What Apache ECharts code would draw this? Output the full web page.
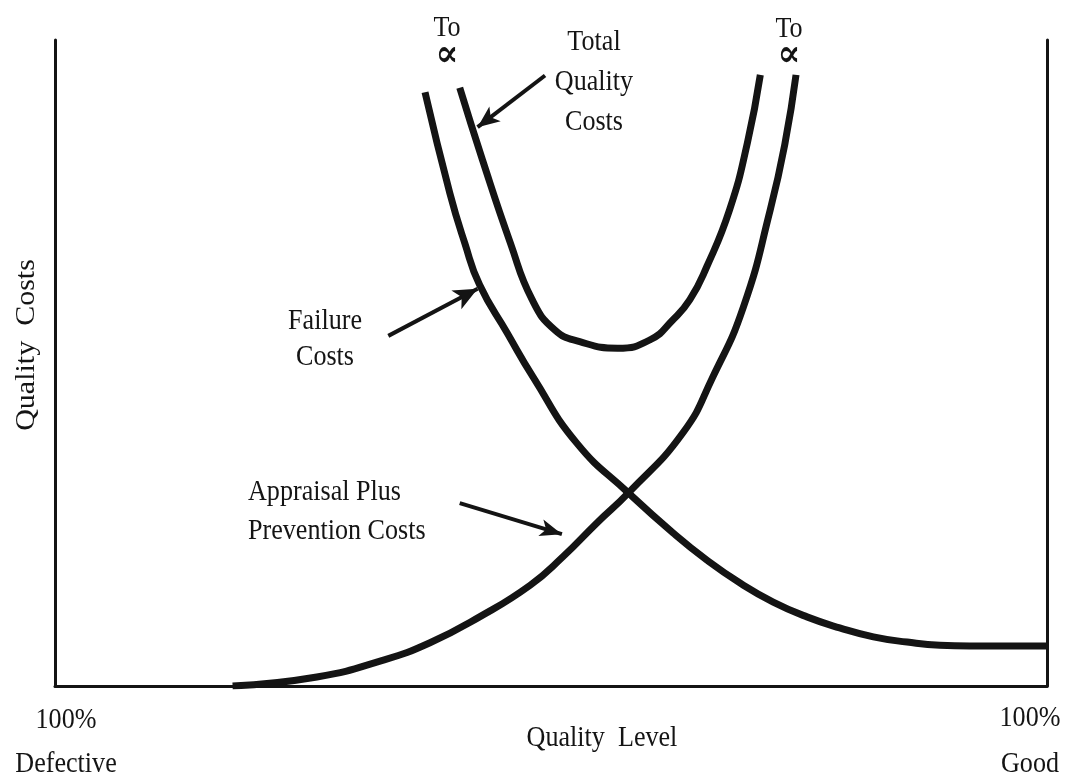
<!DOCTYPE html>
<html>
<head>
<meta charset="utf-8">
<script src="https://cdn.jsdelivr.net/npm/echarts@6/dist/echarts.min.js"></script>
<style>
html,body{margin:0;padding:0;background:#fff;}
#chart{width:1079px;height:782px;}
</style>
</head>
<body>
<div id="chart"></div>
<script>
// Quality level (x, 0 = 100% defective, 100 = 100% good) vs quality cost (y)
const failureCosts = [
  [37.3, 91.9], [39.8, 76.3], [41.3, 68.6], [42.8, 62.1], [45.6, 54.6],
  [48.2, 47.8], [52.6, 37.6], [57.8, 29.9], [62.3, 23.7], [65.7, 19.5],
  [69.1, 15.9], [72.4, 13.0], [75.8, 10.7], [79.1, 9.0], [82.5, 7.6],
  [85.9, 6.8], [89.2, 6.3], [92.2, 6.2], [100, 6.2]
];
const appraisalPreventionCosts = [
  [17.9, 0.0], [26.4, 1.4], [33.1, 4.0], [37.8, 6.7], [42.8, 10.7],
  [47.9, 15.6], [51.2, 20.0], [54.6, 25.2], [57.8, 29.9], [63.3, 39.2],
  [66.3, 47.8], [69.4, 58.7], [72.1, 73.7], [73.6, 84.1], [74.7, 94.6]
];
const totalQualityCosts = [
  [40.8, 92.6], [43.1, 81.4], [45.9, 68.6], [48.1, 59.8], [50.4, 55.1],
  [52.9, 53.3], [56.7, 52.3], [60.0, 53.6], [62.3, 56.7], [64.0, 59.8],
  [65.7, 64.9], [68.0, 73.7], [69.8, 84.1], [71.1, 94.6]
];
// annotation arrows: [tail, tip]
const arrowTotal = [[49.4, 94.5], [42.6, 86.5]];
const arrowFailure = [[33.6, 54.2], [42.6, 61.5]];
const arrowAppraisal = [[40.8, 28.3], [51.1, 23.5]];

const INK = '#141414';
const FONT = '"Liberation Serif", "DejaVu Serif", serif';

const chart = echarts.init(document.getElementById('chart'), null, {renderer: 'canvas'});

function arrowLine(pts, size) {
  return {
    silent: true,
    symbol: ['none', 'arrow'],
    symbolSize: size,
    label: {show: false},
    lineStyle: {color: INK, width: 4, type: 'solid'},
    emphasis: {disabled: true},
    animation: false,
    data: [[{coord: pts[0]}, {coord: pts[1]}]]
  };
}

function curve(name, data, arrow, size) {
  return {
    name: name,
    type: 'line',
    data: data,
    smooth: 0.5,
    showSymbol: false,
    symbol: 'none',
    lineStyle: {color: INK, width: 7, cap: 'butt', join: 'round'},
    silent: true,
    animation: false,
    markLine: arrowLine(arrow, size)
  };
}

function txt(text, x, y, opts) {
  opts = opts || {};
  return Object.assign({
    type: 'text',
    x: x, y: y,
    scaleX: 0.9,
    silent: true,
    style: Object.assign({
      text: text,
      fill: INK,
      fontSize: 29,
      fontFamily: FONT,
      align: 'center',
      verticalAlign: 'middle',
      lineHeight: 39
    }, opts.style || {})
  }, opts.el || {});
}

chart.setOption({
  backgroundColor: '#ffffff',
  animation: false,
  grid: {left: 55, right: 32, top: 40, bottom: 96},
  xAxis: {
    type: 'value', min: 0, max: 100,
    axisLine: {show: true, onZero: false, lineStyle: {color: INK, width: 3}},
    axisTick: {show: false}, axisLabel: {show: false}, splitLine: {show: false}
  },
  yAxis: [
    {
      type: 'value', min: 0, max: 100, position: 'left',
      axisLine: {show: true, onZero: false, lineStyle: {color: INK, width: 3}},
      axisTick: {show: false}, axisLabel: {show: false}, splitLine: {show: false}
    },
    {
      type: 'value', min: 0, max: 100, position: 'right',
      axisLine: {show: true, onZero: false, lineStyle: {color: INK, width: 3}},
      axisTick: {show: false}, axisLabel: {show: false}, splitLine: {show: false}
    }
  ],
  series: [
    curve('Failure Costs', failureCosts, arrowFailure, [16, 24]),
    curve('Appraisal Plus Prevention Costs', appraisalPreventionCosts, arrowAppraisal, [13, 22]),
    curve('Total Quality Costs', totalQualityCosts, arrowTotal, [14, 22])
  ],
  graphic: [
    txt('To', 447, 28),
    txt('∝', 447, 56, {style: {fontWeight: 'bold', fontSize: 38}}),
    txt('To', 789, 29),
    txt('∝', 789, 56, {style: {fontWeight: 'bold', fontSize: 38}}),
    txt('Total\nQuality\nCosts', 594, 82, {style: {lineHeight: 40}}),
    txt('Failure\nCosts', 325, 339, {style: {lineHeight: 36}}),
    txt('Appraisal Plus\nPrevention Costs', 248, 512, {style: {align: 'left'}}),
    txt('Quality  Costs', 27, 345, {el: {rotation: Math.PI / 2, scaleX: 1, scaleY: 0.92}, style: {fontSize: 30}}),
    txt('Quality  Level', 602, 738),
    txt('100%\nDefective', 66, 742, {style: {lineHeight: 44}}),
    txt('100%\nGood', 1030, 741, {style: {lineHeight: 46}})
  ]
});
</script>
</body>
</html>
